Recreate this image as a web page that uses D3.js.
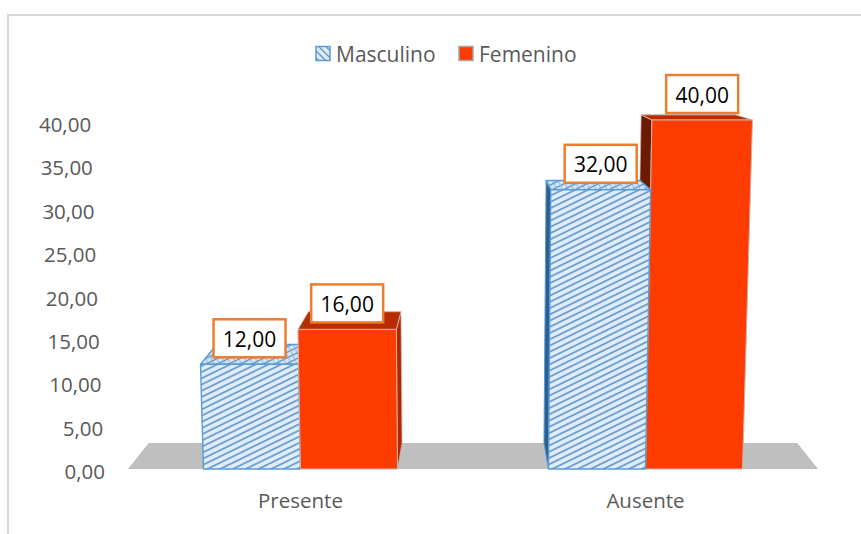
<!DOCTYPE html>
<html>
<head>
<meta charset="utf-8">
<script src="https://cdn.jsdelivr.net/npm/d3@7"></script>
<style>
  body { margin: 0; background: #fff; }
  svg { display: block; }
</style>
</head>
<body>
<svg id="chart" width="861" height="534"></svg>
<script>
// ---- data ----
const categories = ["Presente", "Ausente"];
const seriesNames = ["Masculino", "Femenino"];
const masculino = [12, 32];
const femenino = [16, 40];
const yTicks = [0, 5, 10, 15, 20, 25, 30, 35, 40];

const W = 861, H = 534;
const FONT = "'Open Sans', 'Liberation Sans', sans-serif";
const svg = d3.select("#chart");

// ---- patterns ----
const defs = svg.append("defs");
const hatch = defs.append("pattern").attr("id", "hatchFront")
  .attr("patternUnits", "userSpaceOnUse").attr("width", 8).attr("height", 5.6)
  .attr("patternTransform", "rotate(-26)");
hatch.append("rect").attr("width", 8).attr("height", 5.6).attr("fill", "#E0EDF9");
hatch.append("line").attr("x1", 0).attr("y1", 2.8).attr("x2", 8).attr("y2", 2.8)
  .attr("stroke", "#4A86C5").attr("stroke-width", 1.4);

const hatchTop = defs.append("pattern").attr("id", "hatchTop")
  .attr("patternUnits", "userSpaceOnUse").attr("width", 5).attr("height", 5)
  .attr("patternTransform", "rotate(-26)");
hatchTop.append("rect").attr("width", 5).attr("height", 5).attr("fill", "#D3E4F4");
hatchTop.append("line").attr("x1", 0).attr("y1", 2.5).attr("x2", 5).attr("y2", 2.5)
  .attr("stroke", "#4A86C5").attr("stroke-width", 1.1);
hatchTop.append("line").attr("x1", 2.5).attr("y1", 0).attr("x2", 2.5).attr("y2", 5)
  .attr("stroke", "#7FB0DE").attr("stroke-width", 0.8);

const hatchKey = defs.append("pattern").attr("id", "hatchKey")
  .attr("patternUnits", "userSpaceOnUse").attr("width", 5).attr("height", 5)
  .attr("patternTransform", "rotate(45)");
hatchKey.append("rect").attr("width", 5).attr("height", 5).attr("fill", "#E0EDF9");
hatchKey.append("line").attr("x1", 0).attr("y1", 2.5).attr("x2", 5).attr("y2", 2.5)
  .attr("stroke", "#4A86C5").attr("stroke-width", 1.2);

// ---- chart frame ----
svg.append("rect").attr("x", 8).attr("y", 15).attr("width", W).attr("height", H)
  .attr("fill", "#fff").attr("stroke", "#d9d9d9").attr("stroke-width", 2);

// ---- scales ----
const x0 = d3.scaleBand().domain(categories).range([128, 818])
  .paddingInner(0.4377).paddingOuter(0.2188);
const x1 = d3.scaleBand().domain(seriesNames).range([0, x0.bandwidth()]);
const yBar = d3.scaleLinear().domain([0, 40]).range([469, 120]);
const yAxis = d3.scaleLinear().domain([0, 40]).range([471, 124]);

// ---- simple perspective: depth shrinks toward a vanishing point,
//      vertical edges lean slightly outward with height ----
const floorY = yBar(0);
const vp = { x: (x0.range()[0] + x0.range()[1]) / 2, y: 34 };
const depthShrink = 0.06;
const lean = 0.000106;
function proj(X, h, d) {
  const xf = vp.x + (X - vp.x) * (1 + lean * h);
  const yf = floorY - h;
  const s = 1 - depthShrink * d;
  return [vp.x + (xf - vp.x) * s, vp.y + (yf - vp.y) * s];
}
const path = pts => "M" + pts.map(p => p[0].toFixed(2) + "," + p[1].toFixed(2)).join("L") + "Z";

// ---- floor ----
const [fx0, fx1] = x0.range();
svg.append("path")
  .attr("d", path([proj(fx0, 0, 0), proj(fx1, 0, 0), proj(fx1, 0, 1), proj(fx0, 0, 1)]))
  .attr("fill", "#BFBFBF");

// ---- bars ----
const styles = {
  Masculino: { front: "url(#hatchFront)", top: "url(#hatchTop)", sideL: "#2A5F93", sideR: "#2A5F93", stroke: "#5B9BD5", sw: 1.4 },
  Femenino:  { front: "#FF3C00", top: "#B82C00", sideL: "#6E1A00", sideR: "#B52500", stroke: "#C9B5B0", sw: 1 }
};
const valuesBySeries = { Masculino: masculino, Femenino: femenino };

const bars = [];
categories.forEach((c, i) => {
  seriesNames.forEach(s => {
    const X0 = x0(c) + x1(s);
    const X1 = X0 + x1.bandwidth();
    const v = valuesBySeries[s][i];
    bars.push({ cat: c, series: s, value: v, X0, X1, h: floorY - yBar(v), mid: (X0 + X1) / 2 });
  });
});
// far-from-centre bars first so nearer ones overlap them
bars.sort((a, b) => Math.abs(b.mid - vp.x) - Math.abs(a.mid - vp.x));

const gBars = svg.append("g");
bars.forEach(b => {
  const st = styles[b.series];
  const g = gBars.append("g");
  const leftOfCentre = b.mid < vp.x;
  const sx = leftOfCentre ? b.X1 : b.X0;
  g.append("path")
    .attr("d", path([proj(sx, 0, 0), proj(sx, b.h, 0), proj(sx, b.h, 1), proj(sx, 0, 1)]))
    .attr("fill", leftOfCentre ? st.sideR : st.sideL)
    .attr("stroke", st.stroke).attr("stroke-width", st.sw * 0.7).attr("stroke-linejoin", "round");
  g.append("path")
    .attr("d", path([proj(b.X0, b.h, 0), proj(b.X1, b.h, 0), proj(b.X1, b.h, 1), proj(b.X0, b.h, 1)]))
    .attr("fill", st.top)
    .attr("stroke", st.stroke).attr("stroke-width", st.sw).attr("stroke-linejoin", "round");
  g.append("path")
    .attr("d", path([proj(b.X0, 0, 0), proj(b.X1, 0, 0), proj(b.X1, b.h, 0), proj(b.X0, b.h, 0)]))
    .attr("fill", st.front)
    .attr("stroke", st.stroke).attr("stroke-width", st.sw).attr("stroke-linejoin", "round");
});

// ---- value labels ----
const fmt = v => d3.format(".2f")(v).replace(".", ",");
const gLab = svg.append("g");
bars.forEach(b => {
  const p = proj(b.mid, b.h, 0);
  const bw = 72, bh = 38;
  const bottom = p[1] - 7;
  gLab.append("rect")
    .attr("x", p[0] - bw / 2).attr("y", bottom - bh).attr("width", bw).attr("height", bh)
    .attr("fill", "#fff").attr("stroke", "#ED7D31").attr("stroke-width", 2.5);
  gLab.append("text")
    .attr("x", p[0]).attr("y", bottom - bh / 2 + 0.5)
    .attr("text-anchor", "middle").attr("dominant-baseline", "central")
    .attr("font-family", FONT).attr("font-size", 21).attr("fill", "#000")
    .text(fmt(b.value));
});

// ---- value axis labels (following the slanted left edge) ----
svg.append("g").selectAll("text").data(yTicks).join("text")
  .attr("x", v => 105 - (yAxis(0) - yAxis(v)) * 0.04)
  .attr("y", v => yAxis(v))
  .attr("text-anchor", "end").attr("dominant-baseline", "central")
  .attr("font-family", FONT).attr("font-size", 20.5).attr("fill", "#595959")
  .text(fmt);

// ---- category labels ----
svg.append("g").selectAll("text").data(categories).join("text")
  .attr("x", c => x0(c) + x0.bandwidth() / 2)
  .attr("y", 500)
  .attr("text-anchor", "middle").attr("dominant-baseline", "central")
  .attr("font-family", FONT).attr("font-size", 20.5).attr("fill", "#595959")
  .text(c => c);

// ---- legend ----
const legend = svg.append("g");
const keyX = [316, 459];
seriesNames.forEach((s, i) => {
  legend.append("rect").attr("x", keyX[i]).attr("y", 46.5).attr("width", 14).attr("height", 14)
    .attr("fill", s === "Masculino" ? "url(#hatchKey)" : "#FF3C00")
    .attr("stroke", s === "Masculino" ? "#5B9BD5" : "#A5A5A5").attr("stroke-width", 1.5);
  legend.append("text").attr("x", keyX[i] + 20).attr("y", 54)
    .attr("dominant-baseline", "central")
    .attr("font-family", FONT).attr("font-size", 21).attr("fill", "#595959")
    .text(s);
});
</script>
</body>
</html>
